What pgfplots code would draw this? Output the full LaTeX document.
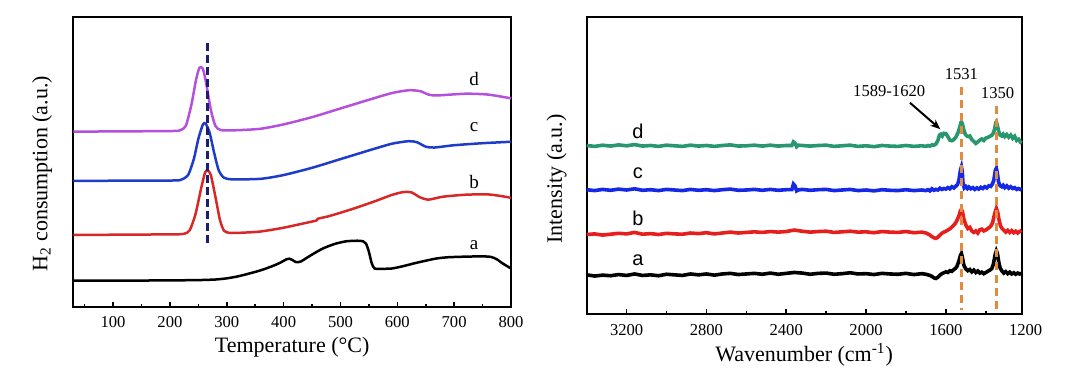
\documentclass[border=0pt]{standalone}
\usepackage{fontspec}
\setmainfont{Liberation Serif}
\newfontfamily\arialf{Liberation Sans}
\usepackage{pgfplots}
\pgfplotsset{compat=1.18}
\usetikzlibrary{arrows.meta}

\definecolor{cviolet}{RGB}{180,80,220}
\definecolor{cblueL}{RGB}{30,60,200}
\definecolor{credL}{RGB}{215,40,40}
\definecolor{cnavy}{RGB}{30,30,110}
\definecolor{cgreen}{RGB}{40,150,110}
\definecolor{cblueR}{RGB}{20,40,230}
\definecolor{credR}{RGB}{230,30,30}
\definecolor{corange}{RGB}{225,140,60}

\pgfplotsset{
  myaxis/.style={
    scale only axis, anchor=south west,
    ymin=0, ymax=100, ytick=\empty,
    axis line style={line width=1pt},
    tick align=inside, xtick pos=bottom,
    major tick length=2.5pt, minor tick length=1.5pt,
    every tick/.style={black, line width=0.8pt},
    tick label style={font=\fontsize{8.3}{9}\selectfont},
    xticklabel style={yshift=-1.5pt},
    label style={font=\fontsize{11}{13}\selectfont},
    /pgf/number format/assume math mode=true,
    /pgf/number format/1000 sep={},
    clip=false,
  }
}

\begin{document}
\begin{tikzpicture}
\useasboundingbox (0,0) rectangle (540pt,-194pt);

% ---------------- Left panel ----------------
\begin{axis}[myaxis,
  at={(36.65pt,-153.35pt)}, width=218.85pt, height=144.7pt,
  xmin=30, xmax=800,
  xtick={100,200,...,800}, minor xtick={50,150,...,750},
  xlabel={Temperature (°C)},
  ylabel={H\textsubscript{2} consumption (a.u.)},
  xlabel style={at={(axis description cs:0.5,-0.139)}, anchor=center},
  ylabel style={at={(axis description cs:-0.0715,0.459)}, anchor=center},
]
% a
\addplot[black, line width=1.25pt, smooth, tension=0.4] coordinates {
(30,9.0)(100,9.0)(200,9.1)(250,9.2)(280,9.4)(300,9.8)(320,10.5)(340,11.5)
(360,12.6)(380,14.0)(395,15.3)(405,16.4)(410,16.6)(415,16.2)(422,15.4)
(430,15.6)(440,16.8)(455,18.6)(470,20.2)(490,21.7)(510,22.6)(530,22.8)
(540,22.6)(545,21.8)(550,19.0)(555,15.0)(560,13.2)(570,13.1)(590,13.2)
(610,14.0)(630,15.0)(650,15.9)(670,16.7)(690,17.1)(720,17.3)(750,17.4)
(765,17.2)(775,16.4)(785,15.0)(795,13.8)(800,13.2)};
% b
\addplot[credL, line width=1.25pt, smooth, tension=0.4] coordinates {
(30,24.8)(200,25.0)(225,25.2)(235,26.5)(245,32)(255,41)(262,46.5)(267,47)
(272,45.5)(280,38)(288,30)(295,26.3)(305,25.5)(330,25.6)(360,26.0)(400,27.3)
(440,29.0)(458,29.8)(460,30.4)(480,31.3)(520,33.7)(560,36.4)(590,38.6)
(610,39.6)(625,39.5)(640,37.8)(655,37.0)(680,38.0)(720,38.7)(760,38.8)
(790,38.0)(800,37.6)};
% c
\addplot[cblueL, line width=1.25pt, smooth, tension=0.4] coordinates {
(30,43.5)(200,43.6)(220,43.9)(232,45.5)(242,51)(250,58)(258,63)(263,63.2)
(270,60)(278,53)(286,47)(295,44.6)(310,44.0)(360,44.2)(400,45.5)(450,48.0)
(500,51.0)(550,54.0)(590,56.3)(620,57.2)(635,56.8)(650,55.3)(665,55.0)
(700,55.8)(750,56.5)(800,57.0)};
% d
\addplot[cviolet, line width=1.25pt, smooth, tension=0.4] coordinates {
(30,60.5)(200,60.7)(218,61.0)(228,62.5)(238,70)(246,78.5)(252,82.6)(258,82.2)
(264,77)(272,68)(280,62.5)(290,61.0)(320,61.0)(360,61.5)(400,63.0)(450,65.5)
(500,68.5)(550,71.5)(590,73.8)(620,74.8)(640,74.5)(655,73.3)(670,73.0)
(720,73.6)(760,73.3)(800,72.0)};
% dashed marker
\addplot[cnavy, line width=1.3pt, dash pattern=on 4pt off 2pt] coordinates {(266,91)(266,21)};
\node[font=\fontsize{9.5}{11}\selectfont] at (axis cs:735,78.7) {d};
\node[font=\fontsize{9.5}{11}\selectfont] at (axis cs:735,62.2) {c};
\node[font=\fontsize{9.5}{11}\selectfont] at (axis cs:735,43.2) {b};
\node[font=\fontsize{9.5}{11}\selectfont] at (axis cs:735,21.3) {a};
\end{axis}

% ---------------- Right panel ----------------
\begin{axis}[myaxis,
  at={(293.35pt,-157pt)}, width=217.5pt, height=148.35pt,
  xmin=1220, xmax=3400, x dir=reverse,
  xtick={1600,2000,...,3200}, minor xtick={1400,1800,...,3000},
  xlabel={Wavenumber (cm\textsuperscript{-1})},
  ylabel={Intensity (a.u.)},
  xlabel style={at={(axis description cs:0.5,-0.138)}, anchor=center},
  ylabel style={at={(axis description cs:-0.069,0.455)}, anchor=center},
]
% a
\addplot[black, line width=1.8pt] coordinates {
(3400,13.2)(3360,12.8)(3320,13.1)(3280,12.9)(3240,13.3)(3200,13.0)(3160,13.5)
(3120,13.0)(3080,13.2)(3040,12.9)(3000,13.4)(2960,13.2)(2920,13.0)(2880,13.5)
(2840,13.2)(2800,13.5)(2760,13.1)(2720,13.5)(2680,13.7)(2640,13.3)(2600,13.5)
(2560,13.7)(2520,13.4)(2480,13.8)(2440,13.4)(2400,13.7)(2360,14.0)(2320,13.8)
(2280,13.4)(2240,13.7)(2200,13.8)(2160,13.4)(2120,13.6)(2080,13.9)(2040,13.5)
(2000,13.6)(1960,13.3)(1920,13.7)(1880,13.5)(1840,13.4)(1800,13.7)(1760,13.3)
(1720,13.6)(1700,13.4)(1690,13.2)(1680,13.0)(1670,12.7)(1660,12.2)(1650,12.0)
(1640,12.4)(1630,13.1)(1620,13.6)(1610,13.9)(1600,14.2)(1590,14.0)(1580,14.6)
(1570,14.4)(1560,15.0)(1552,15.4)(1545,16.0)(1535,17.8)(1527,19.8)(1522,20.4)
(1517,19.0)(1510,16.5)(1500,15.2)(1490,14.6)(1480,15.0)(1470,14.2)(1460,14.8)
(1450,14.0)(1440,14.5)(1430,13.8)(1420,14.1)(1410,13.6)(1400,14.0)(1390,14.4)
(1380,14.8)(1370,15.3)(1362,16.8)(1353,20.0)(1347,21.3)(1342,20.5)(1335,17.5)
(1328,15.5)(1320,14.6)(1310,13.8)(1300,14.3)(1290,13.6)(1280,14.1)(1270,13.5)
(1260,13.9)(1250,13.4)(1240,13.8)(1230,13.5)(1220,13.7)};
% b
\addplot[credR, line width=1.8pt] coordinates {
(3400,26.8)(3360,27.0)(3320,26.6)(3280,26.9)(3240,27.2)(3200,27.0)(3160,27.5)
(3120,26.9)(3080,27.1)(3040,26.8)(3000,27.2)(2960,27.0)(2920,26.9)(2880,27.3)
(2840,27.1)(2800,27.4)(2760,27.0)(2720,27.3)(2680,27.6)(2640,27.3)(2600,27.5)
(2560,27.7)(2520,27.5)(2480,27.8)(2440,27.6)(2400,27.8)(2360,28.3)(2320,27.9)
(2280,27.6)(2240,27.8)(2200,27.9)(2160,27.5)(2120,27.7)(2080,27.9)(2040,27.6)
(2000,27.7)(1960,27.4)(1920,27.8)(1880,27.6)(1840,27.5)(1800,27.8)(1760,27.4)
(1720,27.6)(1700,27.3)(1690,27.0)(1680,26.6)(1670,26.1)(1660,25.7)(1650,25.5)
(1640,25.9)(1630,26.6)(1620,27.2)(1610,27.6)(1600,27.9)(1590,28.3)(1580,28.7)
(1570,29.3)(1560,30.0)(1552,30.6)(1545,31.5)(1535,33.0)(1527,34.8)(1522,35.3)
(1517,34.5)(1510,32.0)(1500,30.0)(1490,28.8)(1480,29.2)(1470,28.0)(1460,27.5)
(1450,28.0)(1440,27.3)(1430,28.4)(1420,28.6)(1410,28.0)(1400,28.3)(1390,28.8)
(1380,29.3)(1372,29.9)(1365,31.0)(1355,34.0)(1347,35.6)(1340,34.2)(1333,31.5)
(1325,29.5)(1318,28.8)(1310,28.3)(1300,27.6)(1290,28.2)(1280,27.5)(1270,28.1)
(1260,27.4)(1250,27.9)(1240,27.3)(1230,27.8)(1220,28.2)};
% c
\addplot[cblueR, line width=1.8pt] coordinates {
(3400,41.9)(3360,41.6)(3320,42.0)(3280,41.7)(3240,42.1)(3200,41.8)(3160,42.2)
(3120,41.7)(3080,41.9)(3040,41.6)(3000,42.0)(2960,41.8)(2920,41.6)(2880,42.0)
(2840,41.7)(2800,41.9)(2760,41.6)(2720,41.9)(2680,42.1)(2640,41.7)(2600,41.8)
(2560,42.0)(2520,41.7)(2480,42.0)(2440,41.7)(2400,41.9)(2372,41.9)(2364,43.8)
(2356,43.2)(2348,41.5)(2340,41.8)(2320,42.0)(2280,41.7)(2240,41.9)(2200,42.0)
(2160,41.6)(2120,41.8)(2080,42.0)(2040,41.6)(2000,41.8)(1960,41.5)(1920,41.9)
(1880,41.7)(1840,41.6)(1800,41.9)(1760,41.6)(1720,41.8)(1700,41.6)(1690,41.9)
(1680,41.5)(1670,42.2)(1660,41.7)(1650,42.0)(1640,41.8)(1630,42.4)(1620,42.0)
(1610,42.3)(1600,42.1)(1590,42.6)(1580,42.2)(1570,42.9)(1560,42.5)(1550,43.1)
(1542,43.6)(1535,45.0)(1527,48.5)(1522,49.6)(1518,48.0)(1514,44.0)(1508,42.5)
(1500,43.0)(1492,42.3)(1485,42.8)(1475,42.2)(1465,42.6)(1455,42.0)(1445,42.5)
(1435,42.1)(1425,42.7)(1415,42.3)(1405,42.9)(1395,42.5)(1385,43.2)(1375,43.0)
(1367,43.8)(1360,45.0)(1352,48.5)(1347,49.1)(1342,47.5)(1336,44.5)(1328,43.2)
(1320,42.9)(1313,43.4)(1305,42.6)(1295,43.2)(1285,42.4)(1275,42.9)(1265,42.3)
(1255,42.6)(1245,42.0)(1235,42.3)(1220,41.8)};
% d
\addplot[cgreen, line width=1.8pt] coordinates {
(3400,56.8)(3360,56.5)(3320,56.9)(3280,56.6)(3240,57.0)(3200,56.7)(3160,57.1)
(3120,56.6)(3080,56.8)(3040,56.5)(3000,56.9)(2960,56.7)(2920,56.5)(2880,56.9)
(2840,56.6)(2800,56.8)(2760,56.5)(2720,56.8)(2680,57.0)(2640,56.6)(2600,56.7)
(2560,56.9)(2520,56.6)(2480,56.9)(2440,56.6)(2400,56.8)(2372,56.8)(2364,58.0)
(2356,57.6)(2348,56.4)(2340,56.9)(2320,56.8)(2280,56.6)(2240,56.8)(2200,56.9)
(2160,56.5)(2120,56.7)(2080,56.9)(2040,56.5)(2000,56.7)(1960,56.4)(1920,56.8)
(1880,56.6)(1840,56.5)(1800,56.8)(1760,56.5)(1720,56.7)(1700,56.5)(1690,56.8)
(1680,56.6)(1670,57.0)(1660,56.9)(1650,57.3)(1640,58.5)(1632,60.3)(1625,60.6)
(1618,60.0)(1610,60.9)(1600,60.8)(1590,59.8)(1580,58.6)(1570,58.4)(1560,58.8)
(1550,59.6)(1540,61.0)(1530,63.0)(1525,64.5)(1522,64.8)(1517,64.0)(1510,62.0)
(1502,60.5)(1495,60.0)(1488,59.8)(1480,60.0)(1470,58.8)(1460,58.2)(1450,57.5)
(1440,58.0)(1430,58.6)(1420,59.0)(1410,58.5)(1400,59.3)(1390,59.5)(1380,59.9)
(1370,60.2)(1362,61.0)(1355,62.5)(1350,64.5)(1347,64.8)(1342,63.5)(1335,61.5)
(1328,60.3)(1320,60.0)(1313,60.6)(1305,59.8)(1295,60.5)(1285,59.6)(1275,60.3)
(1265,59.2)(1255,59.9)(1245,58.5)(1235,58.9)(1225,57.8)(1220,57.6)};
% orange dashed lines
\addplot[corange, line width=1.4pt, dash pattern=on 4pt off 2.5pt] coordinates {(1522,76.5)(1522,1.3)};
\addplot[corange, line width=1.4pt, dash pattern=on 4pt off 2.5pt] coordinates {(1347,70.1)(1347,1.3)};
% arrow
\addplot[black, line width=1pt, -{Stealth[length=5pt,width=4pt]}] coordinates {(1780,71.2)(1628,62.3)};
\node[font=\fontsize{8.3}{9}\selectfont] at (axis cs:1522,81.0) {1531};
\node[font=\fontsize{8.3}{9}\selectfont] at (axis cs:1341,74.4) {1350};
\node[font=\fontsize{8.3}{9}\selectfont] at (axis cs:1884,75.3) {1589-1620};
\node[font=\arialf\fontsize{10}{12}\selectfont] at (axis cs:3143,61.4) {d};
\node[font=\arialf\fontsize{10}{12}\selectfont] at (axis cs:3143,47.4) {c};
\node[font=\arialf\fontsize{10}{12}\selectfont] at (axis cs:3143,32.3) {b};
\node[font=\arialf\fontsize{10}{12}\selectfont] at (axis cs:3143,18.2) {a};
\node[anchor=north, yshift=-1.5pt, font=\fontsize{8.3}{9}\selectfont] at (axis cs:1200,0) {1200};
\end{axis}
\end{tikzpicture}
\end{document}
